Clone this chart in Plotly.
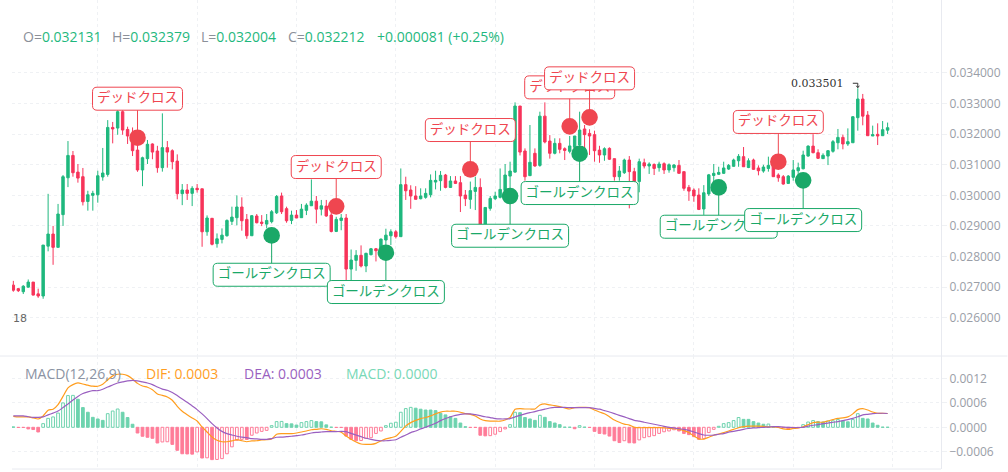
import plotly.graph_objects as go

# All prices and MACD values are in millionths (1e-6).
OPEN = [27065,26950,26850,27000,27165,26780,26710,28340,28735,28300,
29370,30575,31305,30760,30610,29800,30000,30020,30600,30685,
32220,32200,32735,32155,31900,31480,30830,31200,31680,31450,
30905,31560,31460,31120,30055,30175,30065,30230,30215,28810,
29250,28420,28560,28680,29150,29270,29620,29215,28680,29325,
29125,29060,29140,29430,29980,29565,29180,29355,29270,29510,
29660,29810,29550,29650,29355,28820,29180,29260,27590,27875,
28040,27690,28060,28255,28210,28540,28680,28810,28650,30350,
30175,29980,29890,29935,30020,30435,30480,30665,30260,30470,
30415,30010,29870,30130,30260,28950,29575,29890,29935,30160,
30630,30760,32920,31450,30645,31375,30980,32590,31775,31375,
31700,31525,31440,31570,31645,32170,32025,31985,31480,31320,
31535,31200,30610,30740,31155,30775,30450,31065,30960,31010,
30905,31035,30830,30905,30980,30775,30260,30175,30010,29555,
30045,30650,30690,30720,30860,30950,31130,31265,30910,31155,
30895,30795,30880,30980,30665,30610,30390,30590,30805,30870,
31285,31610,31395,31200,31285,31440,31720,31895,31680,31720,
32540,33150,32625,31940,31995,31950,32131]
CLOSE = [26900,26885,27030,27165,26740,26710,28375,28735,28300,29390,
30610,31305,30740,30565,29790,30020,30065,30640,30730,32220,
32170,32735,32135,31940,31460,30830,31230,31670,31415,30905,
31560,31415,31100,30055,30175,30065,30230,30185,28810,29260,
28400,28580,28700,29180,29290,29620,29170,28680,29335,29105,
29085,29180,29465,29965,29465,29170,29355,29260,29550,29680,
29810,29550,29660,29325,28820,29215,29260,27590,27885,28040,
27690,28105,28255,28190,28570,28700,28810,28650,30350,30150,
29980,29870,29980,30065,30490,30490,30655,30260,30470,30390,
29980,29890,30155,30260,28950,29605,29900,29980,30195,30665,
30795,32920,31415,30610,31080,30960,32590,31745,31375,31700,
31505,31470,31615,31940,32135,31985,31940,31460,31320,31525,
31180,30610,30795,31155,30775,30400,31100,30960,31025,30880,
31025,30830,31000,30990,30720,30230,30140,29980,29540,30085,
30670,30720,30750,30895,30980,31155,31275,30935,31130,30850,
30805,30925,30980,30610,30575,30370,30630,30830,30905,31320,
31610,31395,31210,31310,31460,31755,31895,31680,31755,32570,
33150,32590,31950,31985,31940,32145,32212]
HIGH = [27205,26970,27065,27250,27165,26950,28375,30050,29000,29720,
30665,31775,31450,31025,30895,30150,30150,30805,31550,32460,
32400,32790,32790,32245,32220,31800,31265,31810,31700,31620,
32680,31775,31505,31340,30370,30370,30300,30370,30215,29345,
29260,28755,28920,29215,29630,30000,29935,29390,29355,29390,
29355,29390,29520,30010,30090,29630,29500,29520,29720,29740,
30520,29980,29850,29850,29650,29300,29390,29390,28230,28210,
28365,28125,28280,28280,28590,28910,28890,28865,30880,30610,
30330,30300,30230,30230,30685,30805,30795,30700,30630,30630,
30630,30175,30450,30610,30555,29605,29980,30120,30880,31025,
31100,33040,32920,31535,32300,31535,32735,33040,31970,31865,
31865,31570,31940,31940,32735,32300,32160,32115,31620,31570,
31570,31200,30960,31200,31285,30900,31200,31200,31080,31045,
31100,31080,31045,31025,31155,30775,30340,30230,30230,30335,
30700,31025,30935,31100,31025,31200,31350,31580,31210,31200,
30980,31000,31265,31265,30720,30665,30665,31155,31070,31460,
31635,32000,31505,31375,31480,31810,32170,31985,32190,32590,
33501,33315,32755,32280,32355,32430,32379]
LOW = [26850,26840,26775,26980,26730,26650,26620,28170,27730,28300,
29000,30270,30610,30415,29670,29500,29500,29760,30480,30610,
31700,31980,31980,31680,31285,30770,30300,31025,31180,30740,
30775,30905,30850,29870,29680,29850,29650,30090,28320,28680,
28365,28290,28430,28650,29030,29020,28845,28580,28680,29085,
28995,28920,29085,29390,29390,29105,29060,29260,29270,29355,
29660,29085,29345,29300,28790,28800,28860,27230,27230,27535,
27645,27490,28040,27840,28000,28155,28375,28590,28650,29850,
29560,29870,29870,29890,29935,30195,30150,30230,30240,30370,
29455,29650,29560,29520,28950,28900,29500,29850,29900,29980,
30065,30740,31305,30480,30630,30935,30935,31700,31200,31340,
31375,31155,31375,31535,31350,31460,31320,31100,31065,31130,
31155,30480,30480,30700,29575,30100,30100,30880,30700,30665,
30775,30700,30740,30775,30720,30150,29820,29790,29520,29360,
29980,30390,30665,30700,30830,30935,30935,30935,30890,30830,
30655,30740,30775,30610,30445,30350,30370,30480,30665,30850,
31265,31375,31190,31190,30990,31395,31505,31505,31615,31720,
32115,32290,31950,31940,31645,31940,32004]
HIST = [10,-5,-5,-40,-55,-115,90,220,255,350,
600,780,785,690,485,370,245,205,170,335,
400,450,370,240,75,-140,-220,-245,-270,-385,
-360,-355,-420,-565,-650,-655,-660,-605,-755,-750,
-795,-790,-770,-650,-480,-320,-295,-300,-195,-140,
-100,-75,40,140,145,90,85,55,115,140,
165,140,135,60,5,-5,-5,-215,-295,-330,
-325,-270,-255,-150,-90,40,100,125,370,460,
490,470,445,425,425,410,345,305,260,220,
105,15,-5,-5,-195,-210,-205,-170,-105,-40,
65,370,360,240,205,170,295,245,140,105,
65,5,3,-35,40,5,-5,-100,-150,-165,
-215,-330,-375,-330,-380,-385,-310,-255,-230,-205,
-150,-110,-90,-60,-90,-150,-180,-230,-295,-280,
-130,-50,25,90,115,165,240,195,195,140,
105,75,80,5,-5,-5,-35,-25,-15,65,
130,165,140,130,155,160,190,155,135,190,
335,220,205,105,50,5,2]
DIF = [270,255,255,255,230,205,280,420,445,560,
760,970,1050,1090,1065,1035,1010,1010,1060,1165,
1265,1305,1305,1270,1190,1080,1015,985,925,820,
785,745,665,515,395,310,230,155,10,-115,
-240,-320,-355,-355,-335,-305,-330,-355,-335,-330,
-310,-305,-285,-170,-155,-155,-155,-140,-115,-90,
-60,-50,-35,-50,-85,-100,-120,-215,-295,-360,
-410,-420,-420,-395,-335,-285,-255,-220,-100,35,
115,170,215,240,280,330,375,395,395,395,
370,335,320,280,205,165,150,150,150,180,
240,445,460,450,450,450,550,575,550,535,
510,475,450,485,490,490,485,425,375,335,
260,180,125,80,55,0,-10,-10,-10,-10,
-10,-15,-25,-35,-50,-80,-130,-215,-285,-290,
-245,-195,-165,-130,-90,-50,-10,15,30,30,
30,25,10,10,-5,-40,-50,-30,-15,15,
65,115,125,125,155,190,220,230,255,330,
435,460,425,375,345,345,340]
DEA = [280,280,280,260,245,245,255,305,350,400,
485,575,670,760,830,870,900,900,935,990,
1040,1090,1115,1140,1155,1140,1115,1090,1050,990,
940,910,855,780,695,615,525,435,330,215,
90,-15,-100,-155,-190,-220,-240,-255,-280,-285,
-295,-295,-280,-245,-240,-230,-220,-205,-190,-165,
-140,-125,-115,-105,-105,-105,-100,-105,-150,-190,
-230,-270,-295,-320,-330,-330,-320,-305,-245,-190,
-130,-90,-40,0,50,100,165,215,260,295,
320,330,330,310,285,260,240,215,205,205,
215,255,295,330,360,385,420,445,475,490,
490,490,485,485,485,485,485,465,445,410,
375,335,295,255,215,170,150,125,100,75,
50,25,0,-15,-35,-50,-75,-115,-155,-190,
-195,-190,-170,-155,-120,-100,-75,-50,-30,-15,
-10,0,5,15,15,5,0,-5,-5,0,
30,50,65,90,105,125,140,165,190,220,
260,305,320,335,345,345,340]

SIGNAL_INDEX = [25, 52, 65, 75, 92, 100, 112, 114, 116, 142, 154, 159]
SIGNAL_PRICE = [31885, 28692, 29640, 28125, 30850, 29978, 32256, 31362, 32550, 30260, 31100, 30490]
SIGNAL_LABEL_PRICE = [33160, 27405, 30926, 26840, 32136, 28680, 33530, 30076, 33825, 28975, 32400, 29193]
SIGNAL_KIND = ["S", "B", "S", "B", "S", "B", "S", "B", "S", "B", "S", "B"]
LABEL_TEXT = {"S": "デッドクロス", "B": "ゴールデンクロス"}
Y_TICKS = [26000, 27000, 28000, 29000, 30000, 31000, 32000, 33000, 34000]
MACD_TICKS = [-600, 0, 600, 1200]
HIGH_INDEX = 170
HIGH_TEXT = "0.033501"

for a in (OPEN, CLOSE, HIGH, LOW, HIST, DIF, DEA):
    assert len(a) == 177, len(a)

# layout constants (pixels of the 1008x472 page)
W, H = 1008, 472
L, R, B_EDGE, SEP = 12, 941.5, 469, 356
UP, DOWN = "#1fb87e", "#f7345a"
HUP, HDOWN = "#6dd3ae", "#ff7c98"
SIG = {"S": "#ef4650", "B": "#1aa868"}
GRID = "#eff1f4"
AXIS = "#e8eaf0"
TICK = "#9a9ea7"
FONT = "Open Sans"
CJK = "Noto Sans CJK JP"

px = lambda x: (x - L) / (R - L)
py = lambda y: (B_EDGE - y) / B_EDGE
m = lambda v: [a * 1e-6 for a in v]
idx = list(range(177))

fig = go.Figure()
fig.add_trace(go.Candlestick(
    x=idx, open=m(OPEN), high=m(HIGH), low=m(LOW), close=m(CLOSE), xaxis="x", yaxis="y",
    whiskerwidth=0,
    increasing=dict(line=dict(color=UP, width=1), fillcolor=UP),
    decreasing=dict(line=dict(color=DOWN, width=1), fillcolor=DOWN),
    hoverinfo="skip",
))
bar_line, bar_fill = [], []
for i, v in enumerate(HIST):
    c = HUP if v >= 0 else HDOWN
    rising = i > 0 and v > HIST[i - 1]
    bar_line.append(c)
    bar_fill.append("#ffffff" if rising else c)
fig.add_trace(go.Bar(x=idx, y=m(HIST), width=0.55, xaxis="x2", yaxis="y2",
                     marker=dict(color=bar_fill, line=dict(color=bar_line, width=1)), hoverinfo="skip"))
fig.add_trace(go.Scatter(x=idx, y=m(DIF), mode="lines", xaxis="x2", yaxis="y2",
                         line=dict(color="#ff9d1e", width=1.2, shape="spline", smoothing=0.6), hoverinfo="skip"))
fig.add_trace(go.Scatter(x=idx, y=m(DEA), mode="lines", xaxis="x2", yaxis="y2",
                         line=dict(color="#9a5fc0", width=1.2, shape="spline", smoothing=0.6), hoverinfo="skip"))

shapes, annos = [], []

def rounded(w, h, r):
    a, b = w / 2, h / 2
    return (f"M {-a+r} {-b} L {a-r} {-b} Q {a} {-b} {a} {-b+r} L {a} {b-r} Q {a} {b} {a-r} {b} "
            f"L {-a+r} {b} Q {-a} {b} {-a} {b-r} L {-a} {-b+r} Q {-a} {-b} {-a+r} {-b} Z")

for i, p, lp, k in zip(SIGNAL_INDEX, SIGNAL_PRICE, SIGNAL_LABEL_PRICE, SIGNAL_KIND):
    c = SIG[k]
    shapes.append(dict(type="line", xref="x", yref="y", x0=i, x1=i, y0=p * 1e-6, y1=lp * 1e-6,
                       line=dict(color=c, width=1), layer="above"))
    shapes.append(dict(type="circle", xref="x", yref="y", xsizemode="pixel", ysizemode="pixel",
                       xanchor=i, yanchor=p * 1e-6, x0=-8.3, x1=8.3, y0=-8.3, y1=8.3,
                       fillcolor=c, line=dict(width=0), layer="above",
                       label=dict(text=k, font=dict(family=FONT, size=12, color="#ffffff", weight=700),
                                  textposition="middle center")))
    w = 90 if k == "S" else 117
    shapes.append(dict(type="path", xref="x", yref="y", xsizemode="pixel", ysizemode="pixel",
                       xanchor=i, yanchor=lp * 1e-6, path=rounded(w, 23, 4.5),
                       fillcolor="#ffffff", line=dict(color=c, width=1), layer="above",
                       label=dict(text=LABEL_TEXT[k], font=dict(family=CJK, size=13.5, color=c),
                                  textposition="middle center")))

# highest-price marker: a small hooked arrow and its text
hp = HIGH[HIGH_INDEX] * 1e-6
shapes.append(dict(type="path", xref="x", yref="y", xsizemode="pixel", ysizemode="pixel",
                   xanchor=HIGH_INDEX, yanchor=hp, path="M -5 5 L 0 5 L 0 1 M -1.5 2.5 L 0 0.5 L 1.5 2.5",
                   line=dict(color="#333333", width=1), layer="above"))
annos.append(dict(xref="x", yref="y", x=HIGH_INDEX, y=hp, xshift=-12, yshift=5, xanchor="right", yanchor="middle",
                  text=HIGH_TEXT, showarrow=False, font=dict(family="DejaVu Serif", size=11, color="#333333")))

# pane separator across the full page and bottom border
shapes.append(dict(type="line", xref="paper", yref="paper", x0=px(0), x1=px(W), y0=py(SEP), y1=py(SEP),
                   line=dict(color=AXIS, width=1), layer="below"))
shapes.append(dict(type="line", xref="paper", yref="paper", x0=0, x1=1, y0=0, y1=0,
                   line=dict(color=AXIS, width=1), layer="below"))

def text(x, y, s, color, size=14):
    annos.append(dict(xref="paper", yref="paper", x=px(x), y=py(y), xanchor="left", yanchor="middle",
                      text=s, showarrow=False, font=dict(family=FONT, size=size, color=color)))

G, GN = "#8b9099", "#1fb87e"
for x, a, b in [(21, "O=", "0.032131"), (110, "H=", "0.032379"), (199, "L=", "0.032004"), (286, "C=", "0.032212")]:
    text(x, 36.5, f'<span style="color:{G}">{a}</span>{b}', GN)
text(375, 36.5, "+0.000081 (+0.25%)", GN)
text(23, 373, "MACD(12,26,9)", "#8b93a3")
text(144, 373, "DIF: 0.0003", "#ff9d1e")
text(242, 373, "DEA: 0.0003", "#9a5fc0")
text(344, 373, "MACD: 0.0000", "#78d8b6")
annos.append(dict(xref="paper", yref="paper", x=px(10.5), y=py(318), xanchor="left", yanchor="middle",
                  text="18", showarrow=False, font=dict(family="DejaVu Sans", size=11, color="#666666")))

common_x = dict(range=[-0.27, 186.75], tick0=17, dtick=20, showgrid=True, gridcolor=GRID, griddash="dot",
                gridwidth=1, zeroline=False, showline=False, showticklabels=False, ticks="", fixedrange=True)
fig.update_layout(
    width=W, height=H, autosize=False, paper_bgcolor="#ffffff", plot_bgcolor="#ffffff",
    margin=dict(l=L, r=W - R, t=0, b=H - B_EDGE, pad=0), showlegend=False, barmode="overlay",
    xaxis=dict(common_x, domain=[0, 1], anchor="y", rangeslider=dict(visible=False)),
    xaxis2=dict(common_x, domain=[0, 1], anchor="y2"),
    yaxis=dict(domain=[py(SEP), 1], side="right", anchor="x", range=[0.024749, 0.036386],
               tickvals=m(Y_TICKS), tickformat=".6f", showgrid=True, gridcolor=GRID, griddash="dot",
               zeroline=False, showline=True, linecolor=AXIS, ticks="outside", ticklen=5, tickcolor=GRID,
               tickfont=dict(family=FONT, size=12, color=TICK), fixedrange=True),
    yaxis2=dict(domain=[0, py(SEP)], side="right", anchor="x2", range=[-0.001025, 0.001753],
                tickvals=m(MACD_TICKS), tickformat=".4f", showgrid=True, gridcolor=GRID, griddash="dot",
                zeroline=False, showline=True, linecolor=AXIS, ticks="outside", ticklen=5, tickcolor=GRID,
                tickfont=dict(family=FONT, size=12, color=TICK), fixedrange=True),
    shapes=shapes, annotations=annos, font=dict(family=FONT),
)
fig.write_html("out.html", config=dict(displayModeBar=False),
               post_script="document.body.style.margin='0';document.body.style.overflow='hidden';")
